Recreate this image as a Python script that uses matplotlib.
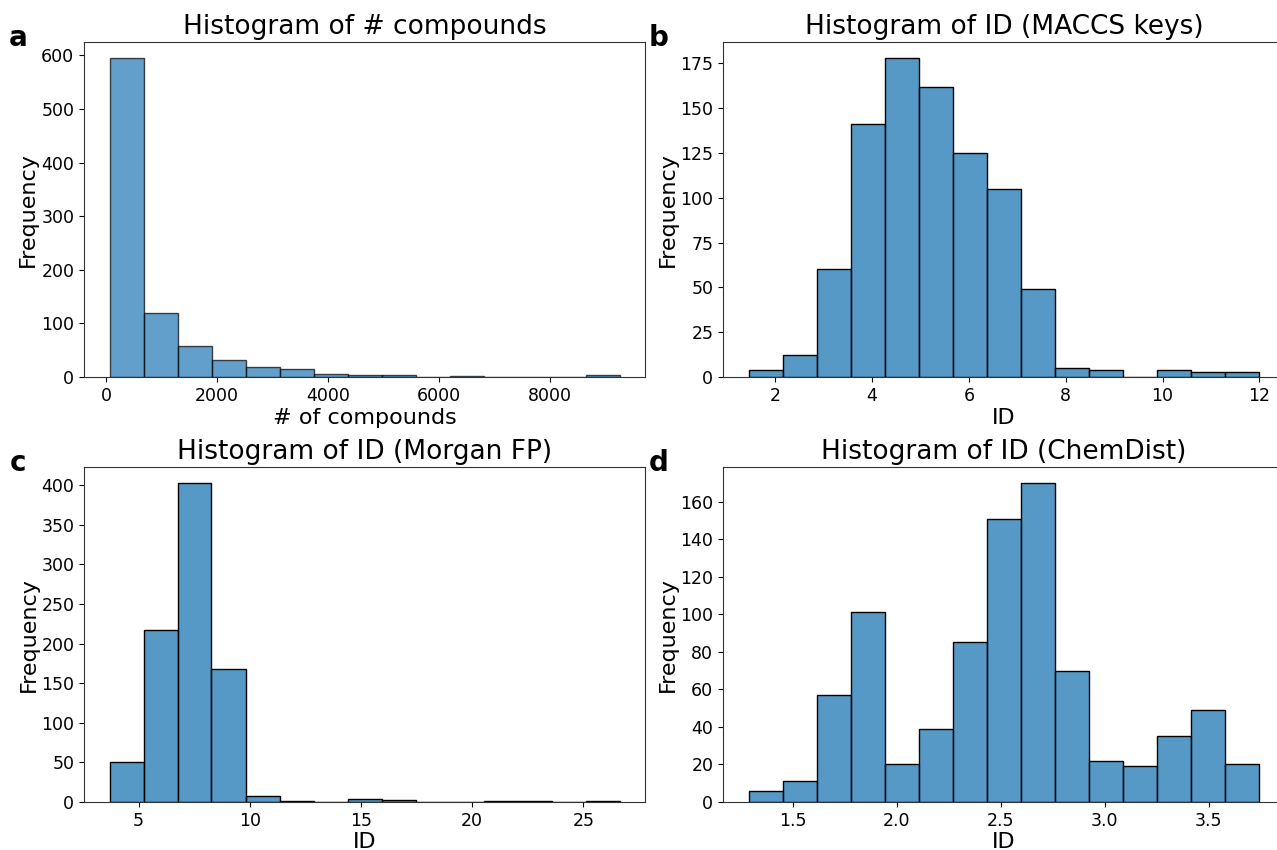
import matplotlib
matplotlib.use('Agg')
import matplotlib.pyplot as plt
from matplotlib.colors import to_rgba
import numpy as np

# bin ranges (first left edge, last right edge) and counts, 15 bins each
n_bins = 15

comp_range = (65, 9256)
comp_counts = [595, 120, 58, 31, 18, 15, 5, 3, 3, 0, 1, 0, 0, 0, 3]

maccs_range = (1.449, 12.0)
maccs_counts = [4, 12, 60, 141, 178, 162, 125, 105, 49, 5, 4, 0, 4, 3, 3]

morgan_range = (3.69, 26.63)
morgan_counts = [50, 217, 403, 168, 7, 1, 0, 4, 3, 0, 0, 1, 1, 0, 1]

chem_range = (1.288, 3.744)
chem_counts = [6, 11, 57, 101, 20, 39, 85, 151, 170, 70, 22, 19, 35, 49, 20]


W, H = 1277, 850
fig = plt.figure(figsize=(W / 100, H / 100), dpi=100)


def px_axes(left, top, right, bottom):
    return fig.add_axes([left / W, 1 - bottom / H, (right - left) / W, (bottom - top) / H])


def draw_hist(ax, rng, counts, title, xlabel, pandas_style=False):
    edges = np.linspace(rng[0], rng[1], n_bins + 1)
    widths = np.diff(edges)
    if pandas_style:
        ax.bar(edges[:-1], counts, width=widths, align='edge', color='C0',
               alpha=0.7, edgecolor='black', linewidth=1.0)
    else:
        ax.bar(edges[:-1], counts, width=widths, align='edge',
               facecolor=to_rgba('C0', 0.75), edgecolor='black', linewidth=1.0)
    ax.set_title(title, fontsize=19)
    ax.set_xlabel(xlabel, fontsize=16, labelpad=2)
    ax.set_ylabel('Frequency', fontsize=16, labelpad=2)
    ax.tick_params(labelsize=12.5)
    for sp in ax.spines.values():
        sp.set_color('#333333')


# right-hand panels run past the figure edge (cropped)
ax_a = px_axes(84, 42, 645, 377)
ax_b = px_axes(723, 42, 1285, 377)
ax_c = px_axes(84, 467, 645, 802)
ax_d = px_axes(723, 467, 1285, 802)

draw_hist(ax_a, comp_range, comp_counts, 'Histogram of # compounds', '# of compounds', pandas_style=True)
draw_hist(ax_b, maccs_range, maccs_counts, 'Histogram of ID (MACCS keys)', 'ID')
draw_hist(ax_c, morgan_range, morgan_counts, 'Histogram of ID (Morgan FP)', 'ID')
draw_hist(ax_d, chem_range, chem_counts, 'Histogram of ID (ChemDist)', 'ID')

# panel letters
for letter, x, y in [('a', 18, 38), ('b', 659, 38), ('c', 18, 463), ('d', 659, 463)]:
    fig.text(x / W, 1 - y / H, letter, fontsize=20, fontweight='bold',
             ha='center', va='center')

fig.savefig('out.png', dpi=100)
